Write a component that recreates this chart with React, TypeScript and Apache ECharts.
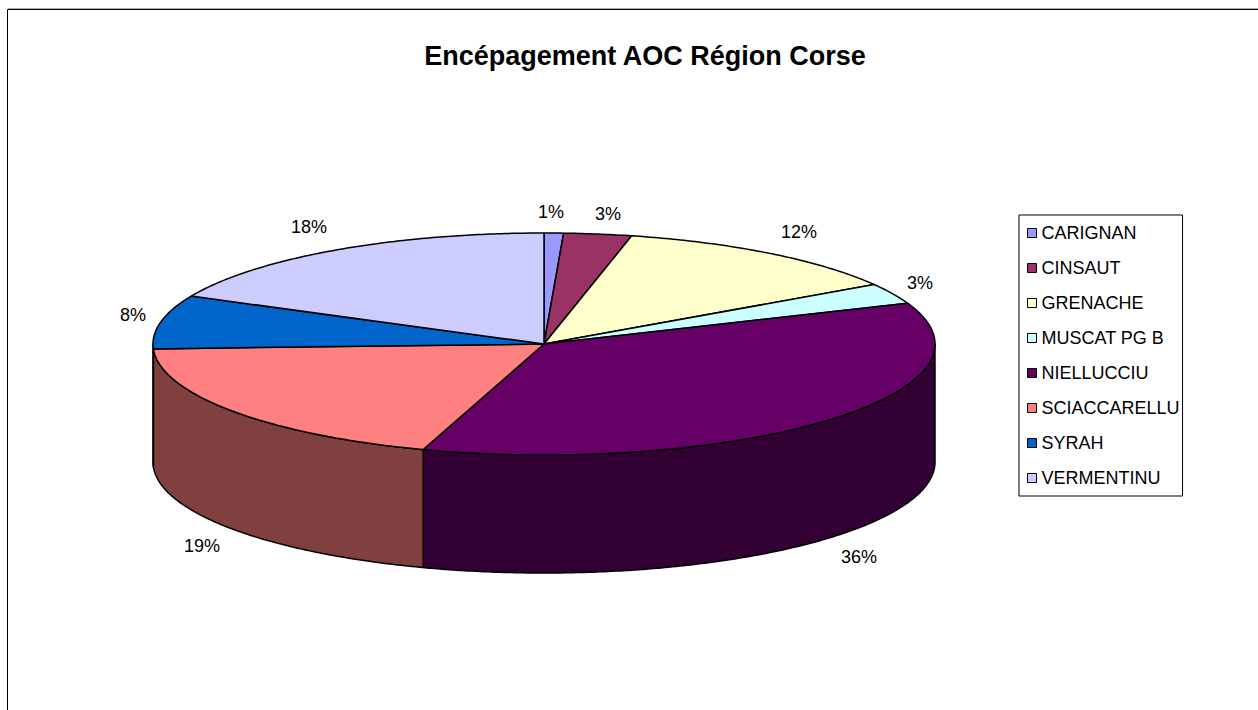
import React, { useEffect, useRef } from "react";
import * as echarts from "echarts";

const categories = ["CARIGNAN", "CINSAUT", "GRENACHE", "MUSCAT PG B", "NIELLUCCIU", "SCIACCARELLU", "SYRAH", "VERMENTINU"];
const shares = [0.8, 2.8, 12.4, 3.0, 36.0, 19.3, 7.8, 17.9];
const topColors = ["#9999FF", "#993366", "#FFFFCC", "#CCFFFF", "#660066", "#FF8080", "#0066CC", "#CCCCFF"];
const wallColors = ["#4D4D80", "#4D1A33", "#808066", "#668080", "#330033", "#804040", "#003366", "#666680"];
const labelCentres = [[551, 212], [608, 214], [799, 232], [920, 283], [859, 557], [202, 546], [133, 315], [309, 227]];

const CX = 544, CY = 344, RX = 391, RY = 111, DEPTH = 118;
const FONT = "Arial, 'Liberation Sans', sans-serif";
const TOTAL = shares.reduce((a, b) => a + b, 0);

const ellipsePoint = (t: number, dy = 0) => [CX + RX * Math.sin(t), CY - RY * Math.cos(t) + dy];

function arcPoints(a: number, b: number, dy = 0) {
  const n = Math.max(2, Math.ceil((b - a) / 0.01));
  const pts: number[][] = [];
  for (let i = 0; i <= n; i++) pts.push(ellipsePoint(a + ((b - a) * i) / n, dy));
  return pts;
}

function sliceRenderer(index: number) {
  const before = shares.slice(0, index).reduce((a, b) => a + b, 0);
  return (_params: any, api: any) => {
    const start = (before / TOTAL) * Math.PI * 2;
    const end = ((before + api.value(0)) / TOTAL) * Math.PI * 2;
    const children: any[] = [];
    const wallStart = Math.max(start, Math.PI / 2);
    const wallEnd = Math.min(end, (3 * Math.PI) / 2);
    if (wallEnd > wallStart) {
      const upper = arcPoints(wallStart, wallEnd);
      const lower = arcPoints(wallStart, wallEnd, DEPTH).reverse();
      children.push({
        type: "polygon",
        shape: { points: [...upper, ...lower] },
        style: { fill: wallColors[index], stroke: "#000", lineWidth: 1.5, lineJoin: "round" },
      });
    }
    children.push({
      type: "polygon",
      shape: { points: [[CX, CY], ...arcPoints(start, end)] },
      style: { fill: topColors[index], stroke: "#000", lineWidth: 1.5, lineJoin: "round" },
    });
    children.push({
      type: "text",
      x: labelCentres[index][0],
      y: labelCentres[index][1],
      style: {
        text: `${Math.round(api.value(0))}%`,
        fill: "#000",
        font: `18px ${FONT}`,
        align: "center",
        verticalAlign: "middle",
      },
    });
    return { type: "group", children };
  };
}

export default function App() {
  const ref = useRef<HTMLDivElement>(null);
  useEffect(() => {
    const chart = echarts.init(ref.current!, undefined, { renderer: "svg" });
    chart.setOption({
      animation: false,
      backgroundColor: "#fff",
      title: {
        text: "Encépagement AOC Région Corse",
        left: 640,
        top: 37,
        textAlign: "center",
        textStyle: { fontFamily: FONT, fontSize: 27, fontWeight: "bold", color: "#000" },
      },
      legend: {
        orient: "vertical",
        left: 1019,
        top: 215,
        padding: [9, 3, 9, 8],
        itemWidth: 9,
        itemHeight: 9,
        itemGap: 17,
        borderColor: "#000",
        borderWidth: 1,
        selectedMode: false,
        icon: "rect",
        itemStyle: { borderColor: "#000", borderWidth: 1 },
        textStyle: { fontFamily: FONT, fontSize: 18, color: "#000", padding: [0, 0, 0, 0] },
        data: categories,
      },
      graphic: [
        { type: "line", silent: true, shape: { x1: 8, y1: 8.5, x2: 1258, y2: 8.5 }, style: { stroke: "#b0b0b0", lineWidth: 1 } },
        { type: "polyline", silent: true, shape: { points: [[7.5, 710], [7.5, 9.5], [1258, 9.5]] }, style: { stroke: "#000", lineWidth: 1, fill: "none" } },
      ],
      series: categories.map((name, i) => ({
        type: "custom",
        name,
        coordinateSystem: "none",
        silent: true,
        itemStyle: { color: topColors[i] },
        data: [[shares[i]]],
        renderItem: sliceRenderer(i),
      })),
    });
    return () => chart.dispose();
  }, []);
  return <div ref={ref} style={{ position: "fixed", left: 0, top: 0, width: 1258, height: 710 }} />;
}
